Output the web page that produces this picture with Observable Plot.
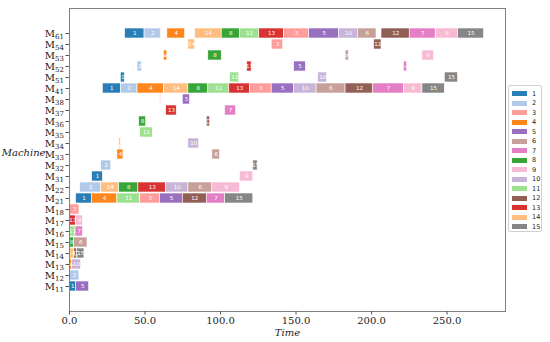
<!DOCTYPE html>
<html>
<head>
<meta charset="utf-8">
<script src="https://cdn.jsdelivr.net/npm/d3@7"></script>
<script src="https://cdn.jsdelivr.net/npm/@observablehq/plot@0.6"></script>
<style>
  body { margin: 0; background: white; }
  #wrap { position: relative; width: 550px; height: 342px; }
  #legend { position: absolute; left: 508px; top: 85px; width: 34px; height: 147px;
            border: 1px solid #d0d0d0; border-radius: 2px; background: white; box-sizing: border-box;
            padding-top: 3px; font-family: "DejaVu Sans", sans-serif; font-size: 6.5px; color: #222; }
  .row { height: 9.5px; display: flex; align-items: center; }
  .sw { width: 15px; height: 5px; margin-left: 3px; margin-right: 5px; }
</style>
</head>
<body>
<div id="wrap"><div id="legend"></div></div>
<script>
// Machines, top to bottom
const machines = ["M61","M54","M53","M52","M51","M41","M38","M37","M36","M35","M34","M33",
                  "M32","M31","M22","M21","M18","M17","M16","M15","M14","M13","M12","M11"];
// Jobs (legend order) and colours
const jobs = [1,2,3,4,5,6,7,8,9,10,11,12,13,14,15];
const jobColors = ["#1f77b4","#aec7e8","#ff9896","#ff7f0e","#9467bd","#c49c94","#e377c2",
                   "#2ca02c","#f7b6d2","#c5b0d5","#98df8a","#8c564b","#d62728","#ffbb78","#7f7f7f"];
// X axis ticks
const xTicks = [0,50,100,150,200,250];

// Operations: machine, job, start, end
const opMachine = [
  "M61","M61","M61","M61","M61","M61","M61","M61","M61","M61","M61","M61","M61","M61","M61",
  "M54","M54","M54",
  "M53","M53","M53","M53",
  "M52","M52","M52","M52",
  "M51","M51","M51","M51",
  "M41","M41","M41","M41","M41","M41","M41","M41","M41","M41","M41","M41","M41","M41","M41",
  "M38","M38",
  "M37","M37",
  "M36","M36",
  "M35",
  "M34","M34",
  "M33","M33",
  "M32","M32",
  "M31","M31",
  "M22","M22","M22","M22","M22","M22","M22",
  "M21","M21","M21","M21","M21","M21","M21","M21",
  "M18",
  "M17","M17",
  "M16","M16",
  "M15","M15",
  "M14","M14","M14",
  "M13","M13",
  "M12",
  "M11","M11"
];
const opJob = [
  1,2,4,14,8,11,13,3,5,10,6,12,7,9,15,
  14,3,12,
  4,8,6,9,
  2,13,5,7,
  1,11,10,15,
  1,2,4,14,8,11,13,3,5,10,6,12,7,9,15,
  3,5,
  13,7,
  8,12,
  11,
  14,10,
  4,6,
  2,15,
  1,9,
  2,14,8,13,10,6,9,
  1,4,11,3,5,12,7,15,
  3,
  13,9,
  11,7,
  8,6,
  14,12,15,
  4,10,
  2,
  1,5
];
const opStart = [
  36.8,49.7,64.8,83.2,100.8,112.9,125.6,142,158.7,178.6,190.9,206.6,225.3,242.5,257.3,
  78.7,133.9,201.7,
  62.6,91.9,182.8,233.7,
  45,117.7,148.8,221.4,
  34,106.3,164.7,248.5,
  22.1,34,45,62.6,78.7,91.9,105.8,119.5,133.9,148.6,163.6,182.8,201.1,221.4,233.7,
  60,75,
  64,103,
  46.1,90.9,
  46.8,
  32.9,78.7,
  31.7,94.6,
  21,121.7,
  15,112.9,
  7.1,21,32.9,45.6,64,78.7,94.6,
  4.4,14.8,31.7,46.8,60,75,90.9,103,
  0,
  0,4.4,
  0,4,
  0,3.1,
  0,3.1,4.9,
  0,1.6,
  0,
  0,4.4
];
const opEnd = [
  49.7,60.6,76.5,100.8,112.9,125.6,142,158.7,178.6,190.9,203.3,225.3,242.5,257.3,274.5,
  83.2,141.5,206.6,
  64.8,100.8,185,241.4,
  47.9,120.6,156.5,223.6,
  36.6,112.4,170.6,257.3,
  34,45,62.6,78.7,91.9,105.8,119.5,133.9,148.6,163.6,182.8,201.1,221.4,233.7,248.5,
  60.7,79.8,
  71,110.3,
  50.7,93.1,
  55.2,
  34.2,85.8,
  35.7,99.7,
  27.6,124.6,
  22.1,121.7,
  21,32.9,45.6,64,78.7,94.6,112.9,
  14.8,31.7,46.8,60,75,90.9,103,121.7,
  6.6,
  4.4,8.9,
  4,8.9,
  3.1,11.9,
  3.1,4.9,9.9,
  1.6,7.7,
  6.6,
  4.4,13
];

const ops = opMachine.map((m, i) => ({machine: m, job: opJob[i], start: opStart[i], end: opEnd[i]}));

const chart = Plot.plot({
  width: 550, height: 342,
  marginLeft: 69, marginRight: 45, marginTop: 8, marginBottom: 31,
  style: {fontFamily: "DejaVu Serif", fontSize: "10px", background: "white", color: "#222"},
  x: {domain: [0, 288.7]},
  y: {type: "band", domain: machines, range: [21, 298.2], paddingInner: 0.13, paddingOuter: 0.065},
  color: {type: "ordinal", domain: jobs, range: jobColors},
  marks: [
    Plot.barX(ops, {x1: "start", x2: "end", y: "machine", fill: "job", stroke: "white", strokeWidth: 0.6, fillOpacity: 0.95}),
    Plot.text(ops, {x: d => (d.start + d.end) / 2, y: "machine", text: d => String(d.job),
      fill: "white", fontSize: 5.5, fontFamily: "DejaVu Sans",
      rotate: d => (d.end - d.start) < 2.5 ? 90 : 0}),
    Plot.frame({stroke: "#808080"}),
    Plot.axisX({ticks: xTicks, tickFormat: d => d.toFixed(1), tickSize: 3.5, tickPadding: 2, fontSize: 10, label: null, stroke: "#555"}),
    Plot.axisY({tickSize: 3.5, tickPadding: 2, fontSize: 10, label: null, stroke: "#555"}),
    Plot.text(["Machine"], {frameAnchor: "left", dx: -24, dy: -7, textAnchor: "end", fontStyle: "italic", fontSize: 10, fontFamily: "DejaVu Serif"}),
    Plot.text(["Time"], {frameAnchor: "bottom", dy: 21, lineAnchor: "middle", fontStyle: "italic", fontSize: 10, fontFamily: "DejaVu Serif"})
  ]
});

// subscript machine numbers on the y tick labels
d3.select(chart).selectAll('g[aria-label="y-axis tick label"] text').each(function() {
  const t = this.textContent;
  const sel = d3.select(this);
  sel.text(null);
  sel.append("tspan").text(t[0]);
  sel.append("tspan").attr("font-size", 7).attr("dy", "0.35em").text(t.slice(1));
});

document.getElementById("wrap").prepend(chart);

// legend
const legend = d3.select("#legend");
jobs.forEach((j, i) => {
  const r = legend.append("div").attr("class", "row");
  r.append("div").attr("class", "sw").style("background", jobColors[i]).style("opacity", 0.95);
  r.append("span").text(j);
});
</script>
</body>
</html>
